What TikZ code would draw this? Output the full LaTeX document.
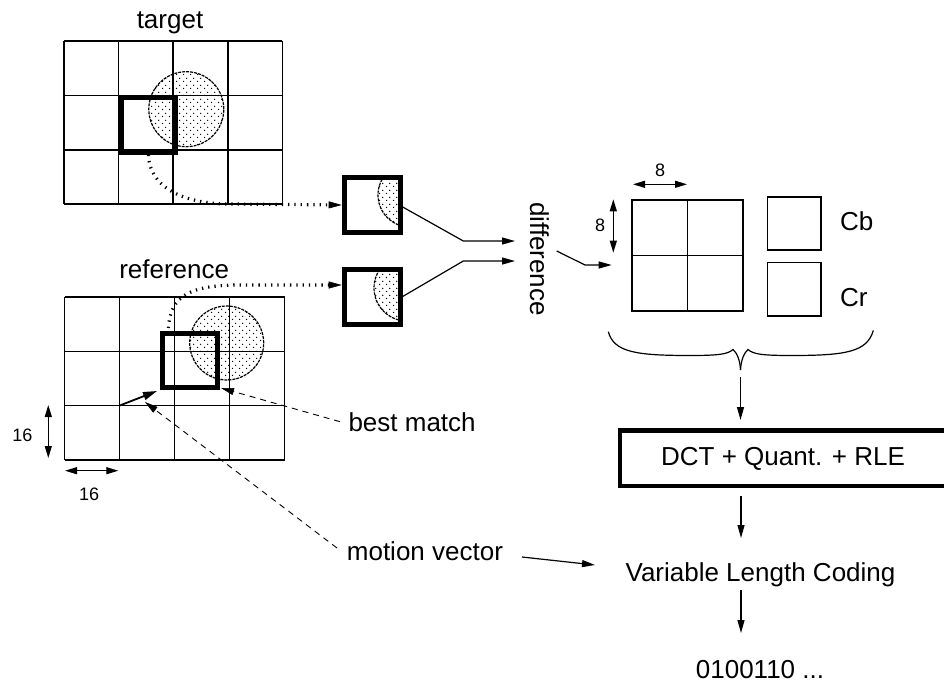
\documentclass[tikz,border=0pt]{standalone}
\usepackage{fontspec}
\setmainfont{Liberation Sans}
\usetikzlibrary{arrows.meta,patterns}

% sparse staggered dots used to shade the moving object
\pgfdeclarepatternformonly{sparsedots}{\pgfqpoint{0pt}{0pt}}{\pgfqpoint{7pt}{7pt}}{\pgfqpoint{7pt}{7pt}}{%
  \pgfpathcircle{\pgfqpoint{1.75pt}{1.75pt}}{0.8pt}%
  \pgfpathcircle{\pgfqpoint{5.25pt}{5.25pt}}{0.8pt}%
  \pgfusepath{fill}%
}

\tikzset{
  gridline/.style={line width=1.6pt},
  thickbox/.style={draw, line width=5pt, inner sep=0pt},
  thinbox/.style={draw, line width=1.6pt, inner sep=0pt},
  blobfill/.style={pattern=sparsedots},
  blobrim/.style={line width=1.2pt, dash pattern=on 3pt off 1pt},
  tip/.style={-{Triangle[length=13pt,width=7pt]}},
  dimtips/.style={line width=1.2pt, {Triangle[length=12pt,width=7pt]}-{Triangle[length=12pt,width=7pt]}},
  flow/.style={line width=1.2pt, tip},
  dotcurve/.style={line width=3.2pt, dash pattern=on 1.3pt off 5pt,
    -{Triangle[length=13pt,width=7pt,line width=0.6pt]}},
  hint/.style={line width=0.9pt, dash pattern=on 6pt off 5pt, -{Triangle[length=13pt,width=7pt,line width=0.6pt]}},
  lbl/.style={inner sep=0pt, font=\fontsize{26}{30}\selectfont},
  small/.style={inner sep=0pt, font=\fontsize{18}{21}\selectfont},
}

\begin{document}
\begin{tikzpicture}[x=1pt, y=-1pt]
\clip (0,0) rectangle (944,685);

% ---------- target frame ----------
\fill[blobfill] (186.3,109.2) circle[radius=37.5pt];
\draw[blobrim] (186.3,109.2) circle[radius=37.5pt];
\foreach \i in {0,...,4}
  \draw[gridline] ({64+54.6*\i},41) -- ({64+54.6*\i},204.2);
\foreach \j in {0,...,3}
  \draw[gridline] (64,{41+54.4*\j}) -- (282.4,{41+54.4*\j});
\node[thickbox, minimum width=54.6pt, minimum height=54.4pt, anchor=north west] (tsq) at (118.6,95.4) {};
\node[lbl, anchor=base] (tlabel) at (170,28.3) {target};

% ---------- reference frame ----------
\fill[blobfill] (226.7,343) circle[radius=37pt];
\draw[blobrim] (226.7,343) circle[radius=37pt];
\foreach \i in {0,...,4}
  \draw[gridline] ({64.5+55*\i},297) -- ({64.5+55*\i},459.9);
\foreach \j in {0,...,3}
  \draw[gridline] (64.5,{297+54.3*\j}) -- (284.5,{297+54.3*\j});
\node[thickbox, minimum width=55.5pt, minimum height=54pt, anchor=north west] (rsq) at (159.5,331) {};
\node[lbl, anchor=base] (rlabel) at (174.2,278.3) {reference};

% macroblock size
\coordinate (v16a) at (48.3,405);
\coordinate (v16b) at (48.3,458);
\draw[dimtips] (v16a) -- (v16b);
\node[small, anchor=base] (v16) at (22.5,441.7) {16};
\coordinate (h16a) at (65,470.7);
\coordinate (h16b) at (118.3,470.7);
\draw[dimtips] (h16a) -- (h16b);
\node[small, anchor=base] (h16) at (89.2,500) {16};

% motion vector inside the reference frame
\coordinate (mvtail) at (119.5,405.6);
\draw[line width=1.8pt, -{Triangle[length=14pt,width=8pt]}] (mvtail) -- ([shift={(-2.5pt,-1pt)}]rsq.south west);

% ---------- extracted blocks ----------
\begin{scope}
  \clip (344.2,177.5) rectangle (400.2,232.5);
  \fill[blobfill] (410,195) circle[radius=32pt];
  \draw[blobrim] (410,195) circle[radius=32pt];
\end{scope}
\begin{scope}
  \clip (344.2,269) rectangle (400.2,324);
  \fill[blobfill] (407,288) circle[radius=33pt];
  \draw[blobrim] (407,288) circle[radius=33pt];
\end{scope}
\node[thickbox, minimum width=56pt, minimum height=55pt] (blk1) at (372.2,205) {};
\node[thickbox, minimum width=56pt, minimum height=55pt] (blk2) at (372.2,296.5) {};

\coordinate (rsqtop) at (168.5,328);
\draw[dotcurve] (tsq.south) .. controls (149,185) and (180,204) .. (230,204) -- (blk1.west);
\draw[dotcurve] (rsqtop) .. controls (170,296) and (190,285) .. (240,285) -- ([yshift=11.5pt]blk2.west);

% ---------- difference ----------
\node[lbl, rotate=-90, anchor=base west] (diff) at (530,202) {difference};
\coordinate (j1) at (463.3,241);
\coordinate (j2) at (463.3,261);
\coordinate (din1) at (515,241);
\coordinate (din2) at (515,261);
\draw[flow] ([yshift=-2pt]blk1.east) -- (j1) -- (din1);
\draw[flow] (blk2.east) -- (j2) -- (din2);

\coordinate (dout) at (556.7,251);
\coordinate (dj) at (585,265);
\coordinate (yin) at (611.7,265);
\draw[flow] (dout) -- (dj) -- (yin);

% ---------- 4:2:0 blocks ----------
\node[thinbox, minimum width=111pt, minimum height=111pt] (ysq) at (687.5,255.5) {};
\draw[gridline] (ysq.north) -- (ysq.south);
\draw[gridline] (ysq.west) -- (ysq.east);
\node[thinbox, minimum width=53.7pt, minimum height=53.3pt] (cb) at (794.2,223.4) {};
\node[thinbox, minimum width=53.7pt, minimum height=53.4pt] (cr) at (794.2,289) {};
\node[lbl, anchor=base west] (cblabel) at (840,230) {Cb};
\node[lbl, anchor=base west] (crlabel) at (840,306.7) {Cr};

\coordinate (v8a) at (613.3,199.3);
\coordinate (v8b) at (613.3,252.7);
\draw[dimtips] (v8a) -- (v8b);
\node[small, anchor=base] (v8) at (600,231.7) {8};
\coordinate (h8a) at (633,184.3);
\coordinate (h8b) at (687,184.3);
\draw[dimtips] (h8a) -- (h8b);
\node[small, anchor=base] (h8) at (660,176.7) {8};

% brace gathering the blocks
\coordinate (brtip) at (740.5,370);
\draw[line width=1.2pt] (608.3,331.7) .. controls (614,352) and (635,355.5) .. (690,355.5)
  .. controls (720,355.5) and (728,354) .. (733,349.5)
  .. controls (737,353) and (740,360) .. (brtip);
\draw[line width=1.2pt] (873.3,330.5) .. controls (867,352) and (846,355.5) .. (791,355.5)
  .. controls (761,355.5) and (753,354) .. (748,349.5)
  .. controls (744,353) and (741,360) .. (brtip);

% ---------- coding chain ----------
\node[draw, line width=4.3pt, inner sep=0pt, minimum width=326.4pt, minimum height=55.7pt,
      font=\fontsize{26}{30}\selectfont] (dct) at (783,458.4) {DCT + Quant. + RLE};
\coordinate (a1s) at (740.5,377);
\coordinate (a1e) at (740.5,420);
\draw[flow] (a1s) -- (a1e);

\node[lbl, anchor=base] (vlc) at (760.5,581.7) {Variable Length Coding};
\coordinate (a2s) at (741,496);
\coordinate (a2e) at (741,538);
\draw[flow] (a2s) -- (a2e);

\node[lbl, anchor=base] (bits) at (760,678.3) {0100110 ...};
\coordinate (a3s) at (741,590);
\coordinate (a3e) at (741,633);
\draw[flow] (a3s) -- (a3e);

% ---------- annotations ----------
\node[lbl, anchor=base west] (bm) at (348.3,431.7) {best match};
\node[lbl, anchor=base west] (mv) at (346.7,560) {motion vector};
\coordinate (bmfrom) at (340,421.7);
\coordinate (bmto) at (221,388);
\draw[hint] (bmfrom) -- (bmto);
\coordinate (mvfrom) at (337,548);
\coordinate (mvto) at (145,402);
\draw[hint] (mvfrom) -- (mvto);
\coordinate (mvs) at (522,557);
\coordinate (mve) at (595,565);
\draw[flow] (mvs) -- (mve);
\end{tikzpicture}
\end{document}
